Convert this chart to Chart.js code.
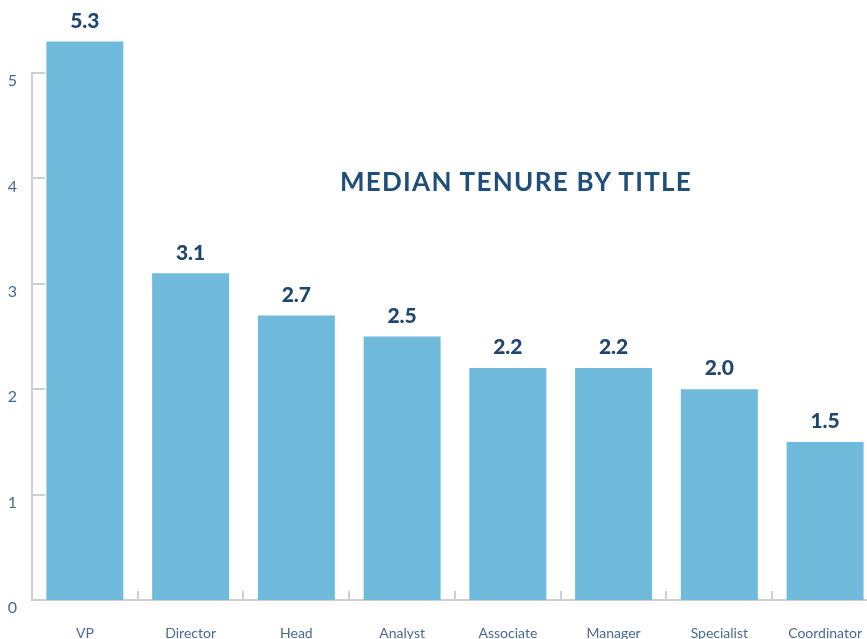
<!DOCTYPE html>
<html>
<head>
<meta charset="utf-8">
<script src="https://cdn.jsdelivr.net/npm/chart.js@4"></script>
<style>
  html, body { margin: 0; padding: 0; background: #ffffff; overflow: hidden; }
  #wrap { position: relative; width: 887px; height: 639px; }
  #titulo {
    position: absolute; left: 300px; top: 165px; width: 432px;
    font-family: Lato, sans-serif; font-weight: 700; font-size: 26px;
    letter-spacing: 1.3px; color: #1f4e7a; white-space: nowrap; text-align: center;
  }
</style>
</head>
<body>
<div id="wrap">
  <canvas id="grafico" width="887" height="639"></canvas>
  <div id="titulo">MEDIAN TENURE BY TITLE</div>
</div>
<script>
// datos del grafico
const titulos = ['VP', 'Director', 'Head', 'Analyst', 'Associate', 'Manager', 'Specialist', 'Coordinator'];
const medianaAnios = [5.3, 3.1, 2.7, 2.5, 2.2, 2.2, 2.0, 1.5];
const ticksY = [0, 1, 2, 3, 4, 5];

const colorBarra = '#70bbdb';
const colorTexto = '#4a6a95';
const colorEje = '#cfcfcf';

// marcas cortas hacia adentro del area del grafico
const marcasInternas = {
  id: 'marcasInternas',
  afterDraw(chart) {
    const ctx = chart.ctx;
    const area = chart.chartArea;
    const x = chart.scales.x;
    const y = chart.scales.y;
    ctx.save();
    ctx.strokeStyle = colorEje;
    ctx.lineWidth = 2;
    ticksY.forEach(v => {
      if (v === 0) return;
      const py = Math.round(y.getPixelForValue(v));
      ctx.beginPath();
      ctx.moveTo(area.left, py);
      ctx.lineTo(area.left + 13, py);
      ctx.stroke();
    });
    for (let i = 1; i < titulos.length; i++) {
      const px = Math.round((x.getPixelForValue(i - 1) + x.getPixelForValue(i)) / 2);
      ctx.beginPath();
      ctx.moveTo(px, area.bottom);
      ctx.lineTo(px, area.bottom - 9);
      ctx.stroke();
    }
    ctx.restore();
  }
};

// valores arriba de cada barra
const etiquetasValor = {
  id: 'etiquetasValor',
  afterDatasetsDraw(chart) {
    const ctx = chart.ctx;
    const meta = chart.getDatasetMeta(0);
    ctx.save();
    ctx.fillStyle = '#1f4670';
    ctx.font = '900 21px Lato, sans-serif';
    ctx.textAlign = 'center';
    ctx.textBaseline = 'bottom';
    meta.data.forEach((barra, i) => {
      ctx.fillText(medianaAnios[i].toFixed(1), barra.x, barra.y - 10);
    });
    ctx.restore();
  }
};

new Chart(document.getElementById('grafico'), {
  type: 'bar',
  data: {
    labels: titulos,
    datasets: [{
      data: medianaAnios,
      backgroundColor: colorBarra,
      borderWidth: 0,
      categoryPercentage: 1,
      barPercentage: 0.728,
      clip: false
    }]
  },
  options: {
    responsive: false,
    animation: false,
    events: [],
    layout: { padding: { top: 73, left: 0, right: 0, bottom: 0 } },
    plugins: { legend: { display: false }, tooltip: { enabled: false } },
    scales: {
      x: {
        offset: true,
        grid: { display: false, drawTicks: false },
        border: { display: true, color: colorEje, width: 2 },
        ticks: {
          color: colorTexto,
          font: { family: 'Lato, sans-serif', size: 14 },
          padding: 25,
          maxRotation: 0,
          autoSkip: false
        },
        afterFit(scale) { scale.height = 39; }
      },
      y: {
        min: 0,
        max: 5,
        afterBuildTicks(scale) { scale.ticks = ticksY.map(v => ({ value: v })); },
        grid: { display: false, drawTicks: false },
        border: { display: true, color: colorEje, width: 2 },
        ticks: {
          color: colorTexto,
          font: { family: 'Lato, sans-serif', size: 16 },
          padding: 15,
          labelOffset: 8
        },
        afterFit(scale) { scale.width = 32; }
      }
    }
  },
  plugins: [marcasInternas, etiquetasValor]
});
</script>
</body>
</html>
